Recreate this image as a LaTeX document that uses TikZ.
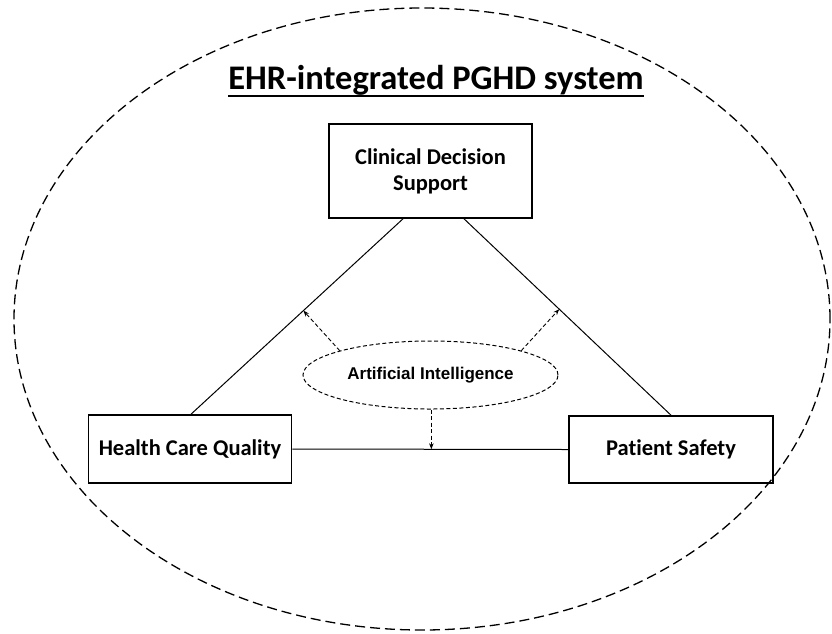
\documentclass[tikz,border=0pt]{standalone}
\usepackage{fontspec}
\setmainfont[Ligatures=NoCommon]{Carlito}
\newfontfamily\aifont{Liberation Sans}
\usetikzlibrary{positioning}
\usetikzlibrary{shapes.geometric}
\usetikzlibrary{arrows.meta}
\usetikzlibrary{calc}

\begin{document}
\begin{tikzpicture}[x=1pt, y=-1pt,
    box/.style={draw, line width=1.6pt, inner sep=0pt, align=center,
        font=\fontsize{22.5}{26}\selectfont\bfseries},
    link/.style={line width=1pt},
    aiarrow/.style={-{Stealth[length=6pt,width=4.5pt]}, dash pattern=on 4pt off 2.5pt, line width=0.9pt}]

    \useasboundingbox (0,0) rectangle (832,633);

    % Nodes
    \node at (422,319) (system) [ellipse, draw, dash pattern=on 10pt off 5pt, line width=1.3pt,
        minimum width=816pt, minimum height=622pt, inner sep=0pt] {};
    \node at (436,89) (title) [anchor=base, inner sep=0pt]
        {\fontsize{34.5}{40}\selectfont\bfseries EHR-integrated PGHD system};
    \draw[line width=2pt] ([yshift=-7pt]title.base west) -- ([yshift=-7pt]title.base east);
    \node at (430.5,171) (cds) [box, minimum width=203pt, minimum height=94pt] {Clinical Decision\\Support};
    \node at (190,449) (hcq) [box, minimum width=203pt, minimum height=68pt] {Health Care Quality};
    \node at (671,449.5) (ps) [box, minimum width=204pt, minimum height=67pt] {Patient Safety};
    \node at (430.5,375) (ai) [ellipse, draw, dash pattern=on 4pt off 2.5pt, line width=1pt,
        minimum width=255pt, minimum height=68pt, inner sep=0pt,
        font=\aifont\bfseries\fontsize{17}{20}\selectfont] {Artificial Intelligence};

    % Links
    \draw[link] ($(cds.south)+(-27.5,0)$) -- ($(hcq.north)+(1,0)$) coordinate[pos=0.47] (onleft);
    \draw[link] ($(cds.south)+(33.5,0)$) -- (ps.north) coordinate[pos=0.46] (onright);
    \draw[link] (hcq.east) -- (ps.west) coordinate[pos=0.504] (onbottom);

    % AI arrows
    \draw[aiarrow] (ai.165) -- (onleft);
    \draw[aiarrow] (ai.15) -- (onright);
    \draw[aiarrow] (ai.south -| onbottom) -- (onbottom);

\end{tikzpicture}
\end{document}
